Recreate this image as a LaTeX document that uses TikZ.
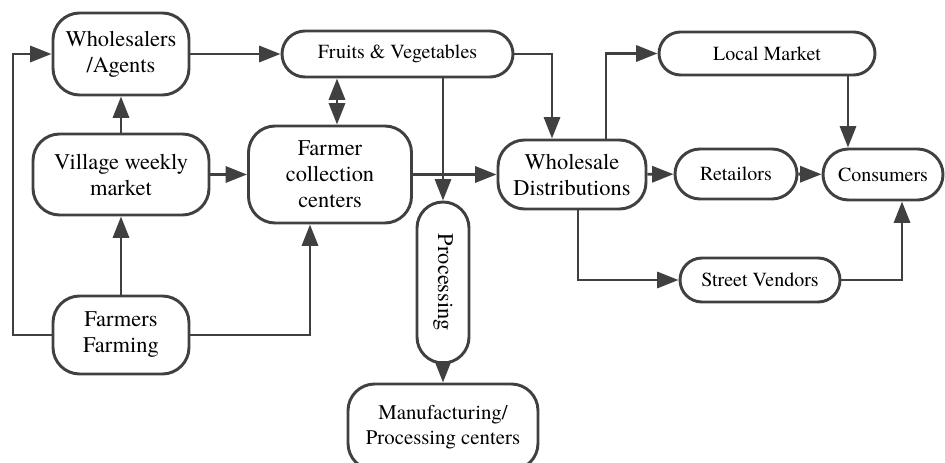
\documentclass[tikz,border=0pt]{standalone}
\usepackage{fontspec}
\setmainfont{texgyretermes}[Extension=.otf, UprightFont=*-regular, BoldFont=*-bold, ItalicFont=*-italic, BoldItalicFont=*-bolditalic]
\usetikzlibrary{arrows.meta,shapes.misc}
\definecolor{linegray}{RGB}{64,64,64}

\begin{document}
\begin{tikzpicture}[x=0.75pt, y=-0.75pt,
        every node/.style={draw=linegray, line width=2.2pt, align=center, inner sep=0pt},
        box/.style={rounded corners=20pt, font=\fontsize{16.8}{19.5}\selectfont},
        pill/.style={rounded rectangle, font=\fontsize{15}{18.5}\selectfont},
        arr/.style={-{Triangle[length=16pt, width=12pt]}, line width=2.2pt, draw=linegray},
        dblarr/.style={{Triangle[length=16pt, width=12pt]}-{Triangle[length=16pt, width=12pt]}, line width=2.2pt, draw=linegray}
    ]
        \useasboundingbox (0,0) rectangle (945,463);

        \node[box, minimum width=102pt, minimum height=61.5pt] (whole) at (121,54) {Wholesalers\\/Agents};
        \node[box, minimum width=132pt, minimum height=60.75pt] (village) at (121,174.5) {Village weekly\\market};
        \node[box, minimum width=102pt, minimum height=58.5pt] (farm) at (121,335) {Farmers\\Farming};
        \node[box, minimum width=122.25pt, minimum height=72.75pt] (fcc) at (330,174.5) {Farmer\\collection\\centers};
        \node[pill, minimum width=173.25pt, minimum height=34.5pt] (fv) at (397.5,54) {Fruits \& Vegetables};
        \node[pill, rotate=-90, minimum width=120.75pt, minimum height=39pt, font=\fontsize{16.8}{19.5}\selectfont] (proc) at (443,282.5) {Processing};
        \node[box, minimum width=142.5pt, minimum height=64.5pt, font=\fontsize{15.6}{18.75}\selectfont] (manuf) at (443,427) {Manufacturing/\\Processing centers};
        \node[box, minimum width=111pt, minimum height=51.75pt] (wd) at (572,174.5) {Wholesale\\Distributions};
        \node[pill, minimum width=162pt, minimum height=32.25pt] (lm) at (767,53.5) {Local Market};
        \node[pill, minimum width=91.5pt, minimum height=37.5pt] (ret) at (736,174) {Retailors};
        \node[pill, minimum width=90pt, minimum height=38.25pt] (cons) at (883,174.5) {Consumers};
        \node[pill, minimum width=120pt, minimum height=33pt] (sv) at (760,280) {Street Vendors};

        % lanes of the connectors
        \coordinate (xleft) at (13,0);
        \coordinate (xfcc) at (310,0);
        \coordinate (xdbl) at (337,0);
        \coordinate (xwd) at (552,0);
        \coordinate (xsv) at (578,0);
        \coordinate (xlm) at (606,0);
        \coordinate (xcons) at (848,0);
        \coordinate (xcons2) at (902,0);

        \draw[arr] (farm.west) -- (farm.west -| xleft) |- (whole);
        \draw[arr] (farm) -- (village);
        \draw[arr] (village) -- (whole);
        \draw[arr] (village) -- (fcc);
        \draw[arr] (farm.east) -| (fcc.south -| xfcc);
        \draw[arr] (whole) -- (fv);
        \draw[dblarr] (fv.south -| xdbl) -- (fcc.north -| xdbl);
        \draw[arr] (fv.south -| proc) -- (proc);
        \draw[arr] (proc) -- (manuf);
        \draw[arr] (fv.east) -| (wd.north -| xwd);
        \draw[arr] (fcc) -- (wd);
        \draw[arr] (wd.north -| xlm) |- (lm);
        \draw[arr] (wd) -- (ret);
        \draw[arr] (wd.south -| xsv) |- (sv);
        \draw[arr] (ret) -- (cons);
        \draw[arr] (lm.south -| xcons) -- (cons.north -| xcons);
        \draw[arr] (sv) -| (cons.south -| xcons2);
    \end{tikzpicture}
\end{document}
